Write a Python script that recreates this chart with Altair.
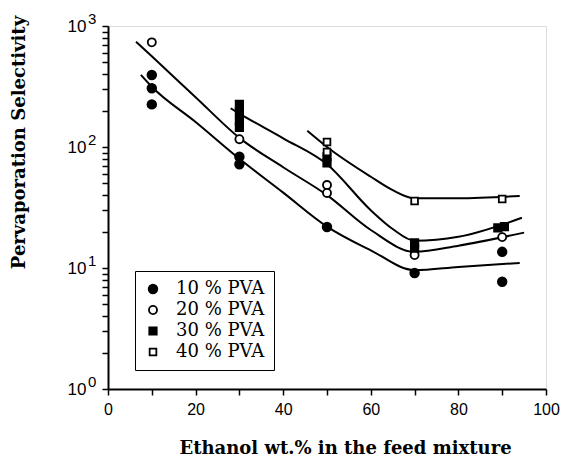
import altair as alt
import pandas as pd

# ---------------- data ----------------
series_names = ["10 % PVA", "20 % PVA", "30 % PVA", "40 % PVA"]

# measured points
p10_x = [10, 10, 10, 30, 30, 50, 70, 90, 90]
p10_y = [394, 306, 225, 83, 72, 21.8, 9.1, 13.6, 7.7]
p20_x = [10, 30, 50, 50, 70, 90]
p20_y = [733, 116, 48.5, 41.7, 12.8, 18.0]
p30_x = [30, 30, 30, 30, 50, 50, 70, 70, 89, 90.5]
p30_y = [225, 195, 165, 145, 83, 74, 16.1, 14.6, 21.5, 22.0]
p40_x = [50, 50, 70, 90]
p40_y = [110, 91, 35.8, 37.2]

# fitted curves
f10_x = [7.5, 10, 20, 30, 40, 50, 60, 70, 80, 94]
f10_y = [395, 315, 161, 80, 42, 22, 14, 9.6, 10.2, 11.0]
f20_x = [6.4, 10, 20, 30, 40, 50, 60, 70, 80, 95]
f20_y = [742, 562, 258, 119, 68, 40, 20.6, 13.6, 15.3, 19.6]
f30_x = [28, 30, 40, 50, 60, 65, 70, 80, 94.5]
f30_y = [209, 189, 118, 72, 30, 21, 16.8, 18.1, 26.0]
f40_x = [45.5, 50, 60, 65, 70, 80, 94]
f40_y = [136, 100, 56.8, 44, 37.7, 37.7, 39.4]

x_ticks = [0, 10, 20, 30, 40, 50, 60, 70, 80, 90, 100]
y_ticks = [1, 2, 3, 4, 5, 6, 7, 8, 9,
           10, 20, 30, 40, 50, 60, 70, 80, 90,
           100, 200, 300, 400, 500, 600, 700, 800, 900, 1000]
decades = [1, 10, 100, 1000]
exponents = ["0", "1", "2", "3"]

# ---------------- tables ----------------
pts = pd.concat([
    pd.DataFrame({"series": series_names[0], "x": p10_x, "y": p10_y}),
    pd.DataFrame({"series": series_names[1], "x": p20_x, "y": p20_y}),
    pd.DataFrame({"series": series_names[2], "x": p30_x, "y": p30_y}),
    pd.DataFrame({"series": series_names[3], "x": p40_x, "y": p40_y}),
])
fits = pd.concat([
    pd.DataFrame({"series": series_names[0], "x": f10_x, "y": f10_y}),
    pd.DataFrame({"series": series_names[1], "x": f20_x, "y": f20_y}),
    pd.DataFrame({"series": series_names[2], "x": f30_x, "y": f30_y}),
    pd.DataFrame({"series": series_names[3], "x": f40_x, "y": f40_y}),
])
exp_df = pd.DataFrame({"y": decades, "e": exponents})

SERIF = "DejaVu Serif"
SANS = "Liberation Sans"
NBSP = "\u00a0"

is_decade = "datum.value==1||datum.value==10||datum.value==100||datum.value==1000"

x_enc = alt.X("x:Q",
              scale=alt.Scale(domain=[0, 100], nice=False),
              axis=alt.Axis(values=x_ticks,
                            labelExpr="datum.value % 20 == 0 ? datum.label : ''",
                            title="Ethanol wt.% in the feed mixture",
                            titleFont=SERIF, titleFontSize=18, titleFontWeight="bold",
                            titleColor="black", titleX=237, titleY=59,
                            titleBaseline="middle", titleAlign="center",
                            labelFont=SANS, labelFontSize=16, labelColor="black",
                            labelPadding=6, tickSize=6, tickWidth=1.5, tickColor="black",
                            domainColor="black", domainWidth=2, grid=False,
                            labelOverlap=False, labelFlush=False))
y_scale = alt.Scale(type="log", domain=[1, 1000], nice=False)
y_enc = alt.Y("y:Q", scale=y_scale,
              axis=alt.Axis(values=y_ticks,
                            labelExpr=is_decade + " ? '10' : ''",
                            title="Pervaporation Selectivity",
                            titleFont=SERIF, titleFontSize=18, titleFontWeight="bold",
                            titleColor="black", titleX=-89, titleY=116, titleAngle=-90,
                            titleBaseline="middle", titleAlign="center",
                            labelFont=SANS, labelFontSize=17, labelColor="black",
                            labelPadding=16, tickSize=6,
                            tickWidth=1.5, tickColor="black",
                            domainColor="black", domainWidth=2, grid=False,
                            labelOverlap=False, labelFlush=False))

lines = alt.Chart(fits).mark_line(color="black", strokeWidth=2, interpolate="monotone").encode(
    x=x_enc, y=y_enc, detail="series:N", order="x:Q")

leg = alt.Legend(title=None, orient="none", legendX=27, legendY=245,
                 strokeColor="black", fillColor="white", padding=9,
                 labelFont=SERIF, labelFontSize=18, labelColor="black",
                 labelOffset=14, rowPadding=3, symbolStrokeWidth=1.8,
                 labelExpr="datum.label + '" + NBSP * 2 + "'")

points = alt.Chart(pts).mark_point(filled=True, strokeWidth=1.8, opacity=1).encode(
    x=x_enc, y=y_enc,
    shape=alt.Shape("series:N", scale=alt.Scale(domain=series_names,
                    range=["circle", "circle", "square", "square"]), legend=leg),
    fill=alt.Fill("series:N", scale=alt.Scale(domain=series_names,
                  range=["black", "white", "black", "white"]), legend=leg),
    stroke=alt.Stroke("series:N", scale=alt.Scale(domain=series_names,
                      range=["black", "black", "black", "black"]), legend=leg),
    size=alt.Size("series:N", scale=alt.Scale(domain=series_names,
                  range=[75, 45, 85, 60]), legend=leg),
)

exps = alt.Chart(exp_df).mark_text(align="left", baseline="middle", dx=0, dy=-7,
                                   font=SANS, fontSize=15, color="black").encode(
    y=alt.Y("y:Q", scale=y_scale), x=alt.value(-20), text="e:N")

chart = alt.layer(lines, points, exps).properties(
    width=438, height=363,
    autosize=alt.AutoSizeParams(type="none"),
    padding={"left": 108, "top": 26, "right": 17, "bottom": 68},
).configure_view(stroke="black", strokeWidth=2).configure(background="white")

chart.save("out.html", embed_options={"renderer": "svg", "actions": False})
